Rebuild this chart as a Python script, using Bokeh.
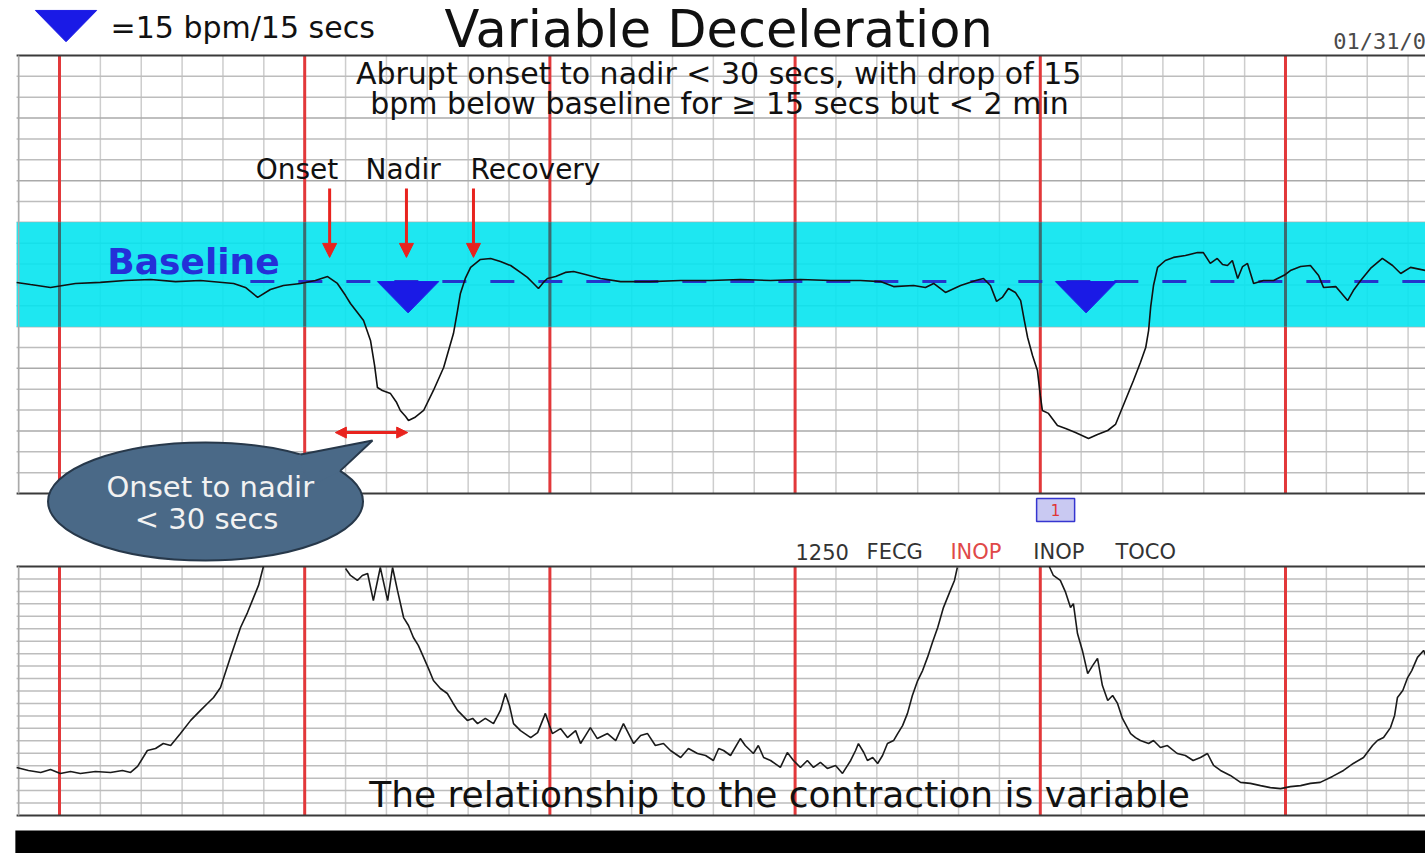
import numpy as np
from bokeh.plotting import figure
from bokeh.models import Range1d, Label, Arrow, NormalHead
from bokeh.embed import file_html
from bokeh.resources import INLINE

# ---------------- data ----------------
# Fetal heart rate trace: time (s from first minute line), bpm
fhr_t = [-10.5, -7.1, -2.2, 3.9, 10.0, 16.1, 22.3, 28.4, 34.5, 42.6, 45.5, 48.5, 51.6, 54.8, 59.0,
         62.6, 65.6, 68.0, 70.0, 71.2, 72.9, 74.4, 76.1, 77.1, 77.8, 79.0, 81.0, 82.5, 83.4, 84.7,
         85.4, 86.9, 89.1, 91.5, 94.0, 95.2, 96.4, 97.4, 98.1, 99.3, 100.6, 103.0, 105.5, 107.9,
         110.4, 112.8, 114.5, 116.0, 117.2, 118.4, 119.4, 121.4, 123.8, 125.8, 128.7, 132.4, 137.3,
         144.6, 152.0, 159.3, 166.6, 174.0, 181.3, 188.7, 196.0, 200.9, 204.1, 209.0, 211.9, 213.9,
         216.8, 220.5, 224.2, 226.1, 227.8, 229.3, 230.7, 232.2, 233.9, 235.2, 236.1, 236.9, 238.1,
         239.3, 240.0, 240.5, 242.0, 244.2, 246.2, 248.6, 251.8, 254.0, 256.5, 258.4, 259.6, 261.3,
         262.8, 264.5, 265.8, 266.5, 267.0, 267.7, 268.7, 270.6, 272.6, 275.5, 278.5, 279.9, 281.6,
         283.3, 284.6, 285.8, 287.0, 288.3, 289.5, 290.7, 292.2, 294.6, 297.1, 300.0, 301.2, 303.7,
         306.1, 308.1, 309.3, 312.3, 315.2, 316.6, 318.4, 320.8, 323.7, 326.2, 328.2, 330.6, 334.3]
fhr_bpm = [131.2, 130.2, 128.8, 130.7, 131.2, 132.1, 132.6, 131.6, 132.1, 130.7, 128.8, 124.0, 127.8,
           129.7, 130.7, 132.1, 134.0, 130.7, 124.9, 121.1, 116.8, 112.9, 103.4, 91.4, 80.8, 79.4,
           77.9, 73.6, 69.8, 66.9, 65.0, 66.4, 69.8, 79.4, 90.4, 98.6, 106.7, 117.7, 125.9, 133.1,
           138.4, 142.2, 142.7, 141.2, 139.3, 136.0, 133.6, 130.7, 128.3, 131.2, 133.1, 134.0, 136.0,
           136.4, 135.0, 133.1, 131.6, 131.6, 132.1, 132.1, 132.6, 132.1, 132.6, 132.1, 132.1, 131.6,
           129.2, 129.7, 128.8, 130.7, 126.4, 129.7, 132.1, 133.1, 129.7, 122.1, 124.0, 128.3, 126.4,
           122.5, 112.9, 104.8, 96.2, 89.0, 77.0, 69.8, 68.4, 62.6, 61.2, 59.2, 56.4, 58.3, 60.2,
           63.1, 68.8, 77.0, 84.2, 92.8, 100.0, 108.1, 119.2, 129.7, 138.4, 141.7, 143.2, 144.1,
           145.5, 145.5, 140.3, 142.7, 139.8, 139.3, 141.7, 133.1, 138.8, 140.3, 130.7, 132.1, 132.1,
           135.0, 136.9, 138.8, 139.3, 134.5, 128.8, 129.2, 122.5, 127.3, 132.1, 137.9, 142.7, 139.3,
           135.5, 138.4, 136.9]

# Uterine activity (TOCO) trace: time (s), value (0-100); NaN = off scale
nan = float("nan")
toco_t = [-10.5, -7.6, -4.6, -2.2, 0.2, 2.7, 5.1, 8.8, 12.5, 15.4, 17.4, 19.1, 21.5, 23.5, 25.4, 27.2,
          29.6, 32.1, 34.5, 36.2, 37.7, 39.4, 41.8, 44.3, 46.0, 47.5, 48.7, 49.9, 60.0,
          70.0, 71.2, 72.9, 74.1, 75.4, 76.8, 78.5, 80.3, 81.5, 82.7, 84.2, 85.4, 86.6, 87.8, 89.1,
          90.3, 91.5, 93.2, 94.9, 96.2, 97.4, 98.6, 99.8, 101.1, 102.3, 104.2, 106.2, 107.9, 109.1,
          110.1, 111.1, 112.8, 115.3, 117.0, 118.9, 119.9, 120.6, 122.6, 124.3, 126.3, 127.5, 128.7,
          129.9, 131.6, 134.1, 136.1, 138.0, 140.5, 142.2, 143.9, 145.8, 147.8, 149.5, 152.0, 153.9,
          156.1, 158.1, 160.0, 161.3, 162.5, 164.2, 166.6, 167.8, 169.8, 171.0, 172.3, 174.0, 176.4,
          178.1, 179.6, 181.3, 183.0, 184.5, 186.2, 187.9, 189.9, 191.6, 193.6, 194.8, 195.5, 196.8,
          197.7, 199.0, 200.2, 201.4, 202.6, 204.1, 205.1, 206.3, 207.5, 208.7, 210.0, 211.2, 212.4,
          213.6, 214.9, 216.3, 218.0, 219.0, 219.7, 230.0,
          242.2, 243.2, 244.9, 246.2, 247.4, 248.1, 249.1, 250.3, 251.6, 252.8, 254.0, 255.2, 256.5,
          257.7, 258.9, 260.1, 262.1, 263.3, 264.5, 266.5, 267.7, 269.4, 271.1, 273.5, 275.5, 277.4,
          279.2, 280.9, 282.4, 284.1, 286.5, 289.0, 291.4, 293.9, 296.3, 298.8, 301.2, 303.7, 306.1,
          308.5, 311.5, 314.2, 316.6, 319.1, 321.3, 322.5, 324.0, 325.7, 326.7, 327.4, 328.7, 329.9,
          330.9, 332.3, 333.8, 334.3]
toco_val = [19.3, 18.1, 17.3, 18.5, 16.9, 17.7, 16.9, 17.7, 17.3, 18.1, 17.3, 19.7, 26.1, 26.9, 28.9,
            28.1, 32.9, 38.2, 42.2, 45.0, 47.4, 51.4, 63.5, 75.5, 81.5, 87.6, 92.4, 100.0, nan,
            99.2, 96.4, 94.4, 96.4, 97.2, 86.3, 99.6, 86.3, 99.6, 90.4, 79.5, 76.3, 71.5, 68.3, 63.5,
            59.0, 54.2, 51.0, 49.0, 45.4, 42.2, 40.2, 38.2, 39.0, 36.9, 39.0, 36.9, 42.2, 49.0, 44.2,
            36.9, 34.1, 31.3, 33.3, 41.0, 36.1, 32.9, 34.9, 31.3, 34.1, 28.9, 32.1, 35.3, 30.9, 32.9,
            30.1, 36.9, 28.9, 32.1, 32.9, 28.1, 28.9, 26.1, 23.3, 26.9, 24.9, 24.1, 22.1, 26.9, 26.1,
            24.1, 30.9, 28.1, 24.9, 28.1, 23.3, 22.1, 19.3, 25.3, 22.1, 19.3, 22.1, 19.3, 21.3, 18.9,
            20.1, 16.9, 22.1, 26.1, 28.9, 25.3, 22.1, 23.3, 20.9, 24.1, 28.9, 30.1, 32.9, 36.1, 41.0,
            48.2, 54.2, 58.2, 63.5, 69.5, 75.5, 83.5, 90.4, 94.4, 99.6, nan,
            100.0, 96.4, 94.4, 89.6, 83.5, 85.1, 73.1, 66.3, 57.0, 60.2, 63.1, 52.2, 46.2, 48.2, 45.0,
            39.0, 32.9, 31.3, 30.1, 28.9, 30.1, 27.3, 28.1, 24.9, 24.1, 22.1, 23.3, 24.9, 20.1, 18.1,
            16.1, 13.3, 12.9, 12.0, 11.2, 10.8, 11.6, 12.0, 12.9, 13.3, 15.7, 18.1, 20.9, 23.3, 28.1,
            30.1, 31.3, 35.3, 40.2, 47.4, 50.2, 55.4, 58.2, 63.5, 66.3, 64.3]

baseline_bpm = 131.6
band_bpm = [110, 160]
fhr_scale = [30, 240]
toco_scale = [0, 100]
minute_marks = [0, 60, 120, 180, 240, 300]
decel_marks_t = [77.8, 243.7]     # left edge of the 15 bpm / 15 s triangles
legend_mark = [-5.9, 261.6]
mark_w, mark_h = 15, 15
arrow_t = [66.1, 84.9, 101.3]
onset_nadir_t = [67.5, 85.2]

# ---------------- figure ----------------
p = figure(width=1425, height=853, x_range=Range1d(-14.437, 334.26), y_range=Range1d(-142.61, 266.37),
           output_backend="svg", toolbar_location=None, min_border=0,
           x_axis_location=None, y_axis_location=None)
p.extra_y_ranges = {"toco": Range1d(-15.26, 327.31)}
p.grid.visible = False
p.outline_line_color = None
p.background_fill_color = "white"
p.border_fill_color = "white"

LEFT, RIGHT = -10.5, 336
RED = "#E2383A"
GRID_V = "#CDCDCD"
GRID_H = "#BDBDBD"

# ---- FHR grid ----
minor_t = [t for t in range(-10, 331, 10) if t not in minute_marks]
p.segment(x0=minor_t, y0=[fhr_scale[0]] * len(minor_t), x1=minor_t, y1=[fhr_scale[1]] * len(minor_t),
          line_color=GRID_V, line_width=1.5)
h_lines = list(range(fhr_scale[0] + 10, fhr_scale[1], 10))
p.segment(x0=[LEFT] * len(h_lines), y0=h_lines, x1=[RIGHT] * len(h_lines), y1=h_lines,
          line_color=[("#AAAAAA" if v % 30 == 0 else GRID_H) for v in h_lines], line_width=1.5)
p.segment(x0=minute_marks, y0=[fhr_scale[0]] * 6, x1=minute_marks, y1=[fhr_scale[1]] * 6,
          line_color=RED, line_width=3)

# ---- TOCO grid ----
p.segment(x0=minor_t, y0=[toco_scale[0]] * len(minor_t), x1=minor_t, y1=[toco_scale[1]] * len(minor_t),
          line_color=GRID_V, line_width=1.5, y_range_name="toco")
th_lines = list(range(toco_scale[0] + 5, toco_scale[1], 5))
p.segment(x0=[LEFT] * len(th_lines), y0=th_lines, x1=[RIGHT] * len(th_lines), y1=th_lines,
          line_color=GRID_H, line_width=1.5, y_range_name="toco")
p.segment(x0=minute_marks, y0=[toco_scale[0]] * 6, x1=minute_marks, y1=[toco_scale[1]] * 6,
          line_color=RED, line_width=3, y_range_name="toco")

# ---- normal range band ----
p.quad(left=LEFT, right=RIGHT, bottom=band_bpm[0], top=band_bpm[1],
       fill_color="#05E4EF", fill_alpha=0.9, line_color=None)
p.segment(x0=minute_marks, y0=[band_bpm[0]] * 6, x1=minute_marks, y1=[band_bpm[1]] * 6,
          line_color="#3C6B70", line_width=3)

# ---- borders ----
p.segment(x0=[LEFT, LEFT], y0=fhr_scale, x1=[RIGHT, RIGHT], y1=fhr_scale, line_color="#3A3A3A", line_width=2)
p.segment(x0=[LEFT, LEFT], y0=toco_scale, x1=[RIGHT, RIGHT], y1=toco_scale, line_color="#3A3A3A",
          line_width=2, y_range_name="toco")
p.segment(x0=[-10], y0=[fhr_scale[0]], x1=[-10], y1=[fhr_scale[1]], line_color="#AAAAAA", line_width=1.5)
p.segment(x0=[-10], y0=[toco_scale[0]], x1=[-10], y1=[toco_scale[1]], line_color="#AAAAAA",
          line_width=1.5, y_range_name="toco")

# ---- baseline ----
p.line([46.7, RIGHT], [baseline_bpm, baseline_bpm], line_color="#2434CC", line_width=3, line_dash="24 24")

# ---- 15 bpm / 15 s marks ----
tri_xs = [[t, t + mark_w, t + mark_w / 2] for t in decel_marks_t]
tri_ys = [[baseline_bpm, baseline_bpm, baseline_bpm - mark_h] for _ in decel_marks_t]
tri_xs.append([legend_mark[0], legend_mark[0] + mark_w, legend_mark[0] + mark_w / 2])
tri_ys.append([legend_mark[1], legend_mark[1], legend_mark[1] - mark_h])
p.patches(tri_xs, tri_ys, fill_color="#1A1AE6", line_color="#1A1AE6")

# ---- traces ----
p.line(fhr_t, fhr_bpm, line_color="#111111", line_width=1.6)
p.line(toco_t, toco_val, line_color="#1A1A1A", line_width=1.6, y_range_name="toco")

# ---- arrows ----
for t in arrow_t:
    p.add_layout(Arrow(end=NormalHead(size=14, fill_color="#E8231E", line_color="#E8231E"),
                       x_start=t, y_start=176.2, x_end=t, y_end=143.2,
                       line_color="#E8231E", line_width=3))
p.add_layout(Arrow(start=NormalHead(size=11, fill_color="#E8231E", line_color="#E8231E"),
                   end=NormalHead(size=11, fill_color="#E8231E", line_color="#E8231E"),
                   x_start=onset_nadir_t[0], y_start=59.2, x_end=onset_nadir_t[1], y_end=59.2,
                   line_color="#E8231E", line_width=3))

# ---- callout bubble ----
BUB = "#4A6987"
p.ellipse(x=35.73, y=26.16, width=77.08, height=56.58, fill_color=BUB, line_color="#27384A", line_width=2)
p.patch([57.75, 76.59, 68.27, 61.42], [48.22, 55.41, 40.07, 33.84], fill_color=BUB, line_color=None)
p.multi_line([[59.02, 76.59, 68.69]], [[48.70, 55.41, 40.84]], line_color="#27384A", line_width=2)

# ---- black footer ----
p.quad(left=-10.8, right=RIGHT, bottom=-17, top=-6.0, fill_color="black", line_color=None, y_range_name="toco")

# ---- "1" box ----
p.quad(left=239.1, right=248.4, bottom=16.6, top=27.6, fill_color="#C9C9F2", line_color="#3535D0", line_width=1.5)

SANS = "DejaVu Sans"

def lab(x, y, text, size, color="#111111", font=SANS, align="left", style="normal", yr="default"):
    p.add_layout(Label(x=x, y=y, text=text, text_font=font, text_font_size=size, text_color=color,
                       text_align=align, text_baseline="middle", text_font_style=style,
                       y_range_name=yr))

lab(243.75, 22.1, "1", "15px", color="#E03535", align="center")
lab(12.5, 253.4, "=15 bpm/15 secs", "30px")
lab(161.3, 252.6, "Variable Deceleration", "51px", align="center")
lab(311.7, 246.5, "01/31/0", "22px", color="#4A4A4A", font="DejaVu Sans Mono")
lab(161.3, 231.4, "Abrupt onset to nadir < 30 secs, with drop of 15", "30px", align="center")
lab(161.5, 217.0, "bpm below baseline for \u2265 15 secs but < 2 min", "30px", align="center")
lab(48.0, 185.5, "Onset", "28px")
lab(74.9, 185.5, "Nadir", "28px")
lab(100.6, 185.5, "Recovery", "28px")
lab(11.7, 141.1, "Baseline", "36px", color="#2430D8", style="bold")
lab(36.9, 33.2, "Onset to nadir", "29px", color="#F2F2F2", align="center")
lab(36.0, 17.9, "< 30 secs", "29px", color="#F2F2F2", align="center")
lab(180.1, 1.85, "1250", "21px", color="#333333")
lab(197.5, 1.85, "FECG", "21px", color="#333333")
lab(218.0, 1.85, "INOP", "21px", color="#E04848")
lab(238.3, 1.85, "INOP", "21px", color="#333333")
lab(258.4, 1.85, "TOCO", "21px", color="#333333")
lab(176.2, 8.35, "The relationship to the contraction is variable", "36px", align="center", yr="toco")

open("out.html", "w").write(file_html(p, INLINE))
